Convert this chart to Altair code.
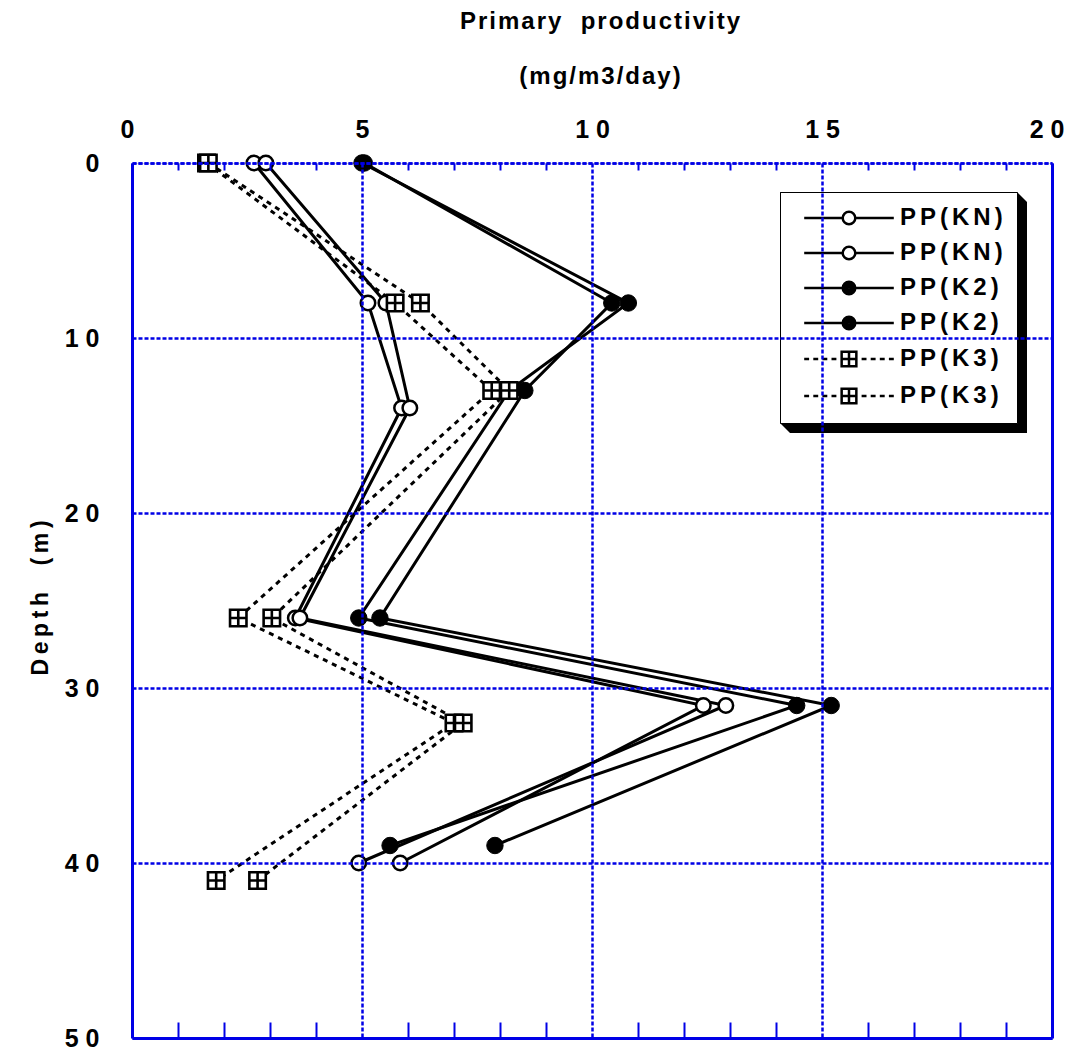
import altair as alt
import pandas as pd

# ---------------- data ----------------
series_ids = ["KN-1", "KN-2", "K2-1", "K2-2", "K3-1", "K3-2"]
series_groups = ["KN", "KN", "K2", "K2", "K3", "K3"]

depth_kn = [0, 8, 14, 26, 31, 40]
pp_kn_1 = [2.65, 5.13, 5.86, 3.55, 12.42, 5.83]
pp_kn_2 = [2.91, 5.52, 6.04, 3.65, 12.91, 4.93]

depth_k2 = [0, 8, 13, 26, 31, 39]
pp_k2_1 = [5.00, 10.79, 8.20, 4.93, 14.45, 5.61]
pp_k2_2 = [5.05, 10.43, 8.54, 5.39, 15.20, 7.89]

depth_k3 = [0, 8, 13, 26, 32, 41]
pp_k3_1 = [1.62, 5.72, 7.82, 2.31, 7.00, 1.83]
pp_k3_2 = [1.66, 6.27, 8.20, 3.04, 7.20, 2.73]

x_major = [0, 5, 10, 15, 20]
x_minor = [1, 2, 3, 4, 6, 7, 8, 9, 11, 12, 13, 14, 16, 17, 18, 19]
y_major = [0, 10, 20, 30, 40, 50]

title_lines = ["Primary  productivity", "(mg/m3/day)"]
y_title = "Depth  (m)"

# ---------------- table ----------------
depths = [depth_kn, depth_kn, depth_k2, depth_k2, depth_k3, depth_k3]
values = [pp_kn_1, pp_kn_2, pp_k2_1, pp_k2_2, pp_k3_1, pp_k3_2]
rows = []
for sid, grp, ds, vs in zip(series_ids, series_groups, depths, values):
    for i, (d, v) in enumerate(zip(ds, vs)):
        rows.append({"series": sid, "group": grp, "depth": d, "pp": v, "ord": i})
df = pd.DataFrame(rows)

# ---------------- styles ----------------
BLUE = "#0000e6"
FONT = "Liberation Sans"
W, H = 920, 875
HAIR = "\u200a"
THIN = "\u2009"


def track(s, sp):
    return sp.join(s)


xscale = alt.Scale(domain=[0, 20], nice=False, zero=False)
yscale = alt.Scale(domain=[0, 50], nice=False, zero=False, reverse=True)

lab_expr = "datum.value >= 10 ? floor(datum.value/10) + ' ' + (datum.value % 10) : datum.label"

ax_top = alt.Axis(
    orient="top", values=x_major, labelExpr=lab_expr, labelFont=FONT, labelFontSize=25,
    labelFontWeight="bold", labelColor="black", labelPadding=21, labelFlush=True,
    labelFlushOffset=12, labelOverlap=False, ticks=False, tickSize=0, domain=True,
    domainColor=BLUE, domainWidth=2.5, domainDash=[4, 2], grid=True, gridColor=BLUE,
    gridWidth=2.5, gridDash=[4, 2], gridOpacity=1, title=None, zindex=2)
ax_left = alt.Axis(
    orient="left", values=y_major, labelExpr=lab_expr, labelFont=FONT, labelFontSize=25,
    labelFontWeight="bold", labelColor="black", labelPadding=33, labelFlush=False,
    labelOverlap=False, ticks=False, tickSize=0, domain=True, domainColor=BLUE,
    domainWidth=3, grid=True, gridColor=BLUE, gridWidth=2.5, gridDash=[4, 2],
    gridOpacity=1, title=track(y_title, THIN), titleFont=FONT, titleFontSize=23,
    titleFontWeight="bold", titleColor="black", titleAngle=270, titleX=-92,
    titleY=H / 2 - 3, titleAlign="center", titleBaseline="middle", zindex=2)
ax_bottom_ticks = alt.Axis(
    orient="bottom", offset=-16, values=x_minor, ticks=True, tickSize=16,
    tickColor=BLUE, tickWidth=2, labels=False, domain=False, grid=False,
    title=None, zindex=2)
ax_top_ticks = alt.Axis(
    orient="top", offset=-7, values=x_minor, ticks=True, tickSize=7,
    tickColor=BLUE, tickWidth=2, labels=False, domain=False, grid=False,
    title=None, zindex=2)
ax_bottom_line = alt.Axis(
    orient="bottom", values=x_major, ticks=False, tickSize=0, labels=False,
    domain=True, domainColor=BLUE, domainWidth=3, grid=False, title=None, zindex=2)
ax_right_line = alt.Axis(
    orient="right", values=y_major, ticks=False, tickSize=0, labels=False,
    domain=True, domainColor=BLUE, domainWidth=3, grid=False, title=None, zindex=2)


def X(axis):
    return alt.X("pp:Q", scale=xscale, axis=axis, title=None)


def Y(axis):
    return alt.Y("depth:Q", scale=yscale, axis=axis, title=None)


base = alt.Chart(df)

solid = base.transform_filter("datum.group != 'K3'").mark_line(
    color="black", strokeWidth=3).encode(
    x=X(ax_top), y=Y(ax_left), detail="series:N", order="ord:Q")

dashed = base.transform_filter("datum.group == 'K3'").mark_line(
    color="black", strokeWidth=3, strokeDash=[5, 5]).encode(
    x=X(ax_bottom_ticks), y=Y(ax_right_line), detail="series:N", order="ord:Q")

pts_kn = base.transform_filter("datum.group == 'KN'").mark_point(
    shape="circle", filled=True, fill="white", stroke="black", strokeWidth=2.5,
    size=210, opacity=1).encode(x=X(ax_top_ticks), y=Y(None))

pts_k2 = base.transform_filter("datum.group == 'K2'").mark_point(
    shape="circle", filled=True, fill="black", stroke="black", strokeWidth=1,
    size=270, opacity=1).encode(x=X(ax_bottom_line), y=Y(None))

SQ = "M-1,-1H1V1H-1ZM0,-1V1M-1,0H1"
pts_k3 = base.transform_filter("datum.group == 'K3'").mark_point(
    shape=SQ, filled=True, fill="white", stroke="black", strokeWidth=2.6,
    size=270, opacity=1).encode(x=X(None), y=Y(None))

# ---------------- legend (drawn by the library from empty layers) ----------------
def ring(r):
    return "M{0},0A{1},{1},0,1,0,{2},0A{1},{1},0,1,0,{0},0Z".format(-r, r, r)


LINE = "M-6.4,0H-0.9M0.9,0H6.4"
OPEN = LINE + ring(0.9)
DISC = LINE + ring(0.9) + ring(0.65) + ring(0.4) + ring(0.15)
DASHSQ = ("M-6.4,0H-5.7M-5.1,0H-4.4M-3.8,0H-3.1M-2.5,0H-1.8"
          "M1.8,0H2.5M3.1,0H3.8M4.4,0H5.1M5.7,0H6.4"
          "M-1.05,-1.05H1.05V1.05H-1.05ZM0,-1.05V1.05M-1.05,0H1.05")
legend_shapes = [OPEN, OPEN, DISC, DISC, DASHSQ, DASHSQ]

# drop shadow: legend box (237 x 231 px) extruded by 10 px to the lower right
SHADOW_PATH = ("M-1,-0.9757L0.9190,-0.9757L1,-0.8947L1,0.9757"
               "L-0.9190,0.9757L-1,0.8947Z")

LEG_X, LEG_Y = 648, 29
leg_label = ("join(split('PP(' + slice(datum.value, -4, -2) + ')', ''), '"
             + HAIR + HAIR + "')")

main_legend = alt.Legend(
    title=None, orient="none", legendX=LEG_X, legendY=LEG_Y, direction="vertical",
    padding=14, symbolSize=196, symbolOffset=43, labelOffset=39, rowPadding=11,
    labelFont=FONT, labelFontSize=24, labelFontWeight="bold", labelExpr=leg_label,
    labelLimit=0, symbolStrokeWidth=2.5, symbolOpacity=1, labelColor="black",
    strokeColor="black", fillColor="white", symbolStrokeColor="black", zindex=1)

shadow_legend = alt.Legend(
    title=None, orient="none", legendX=LEG_X, legendY=LEG_Y - 3, direction="vertical",
    padding=0, symbolSize=61009, symbolOffset=0, labelOffset=0, labelExpr="''",
    symbolType=SHADOW_PATH, symbolStrokeWidth=0, symbolOpacity=1, zindex=0)

no_rows = "datum.depth < 0"
leg_layer = base.transform_filter(no_rows).mark_point(
    filled=False, color="black", strokeWidth=2.5, opacity=1).encode(
    x=X(None), y=Y(None),
    shape=alt.Shape("series:N", scale=alt.Scale(domain=series_ids, range=legend_shapes),
                    legend=main_legend))

shadow_layer = base.transform_filter(no_rows).transform_calculate(
    sh="'shadow'").mark_point(filled=True, opacity=1).encode(
    x=X(None), y=Y(None),
    fill=alt.Fill("sh:N", scale=alt.Scale(domain=["shadow"], range=["black"]),
                  legend=shadow_legend))

chart = alt.layer(
    solid, dashed, shadow_layer, leg_layer, pts_kn, pts_k2, pts_k3
).resolve_axis(x="independent", y="independent").properties(
    width=W, height=H,
    autosize=alt.AutoSizeParams(type="none"),
    padding={"left": 124, "top": 155, "right": 15, "bottom": 12},
    title=alt.TitleParams(text=[track(t, HAIR) for t in title_lines], font=FONT,
                          fontSize=24, fontWeight="bold", color="black", lineHeight=55,
                          anchor="middle", offset=28, dx=8),
).configure_view(strokeWidth=0).configure_legend(
    strokeWidth=2, cornerRadius=0).configure(background="white")

chart.save("out.html", embed_options={"renderer": "svg", "actions": False})
